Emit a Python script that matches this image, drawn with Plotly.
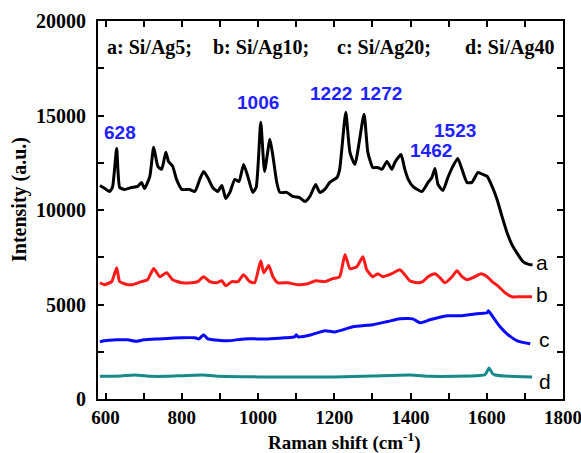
import plotly.graph_objects as go

# ---- data ----
xa = [585, 597, 610, 618, 629, 637, 650, 668, 684, 694, 702, 716, 726, 737, 747, 758, 765, 776, 786, 800,
      820, 834, 847, 857, 868, 881, 894, 905, 915, 926, 939, 950, 962, 973, 986, 995, 1007, 1017, 1031, 1039,
      1049, 1057, 1075, 1091, 1109, 1123, 1136, 1151, 1162, 1175, 1188, 1207, 1214, 1230, 1241, 1254, 1278, 1288, 1301, 1314,
      1325, 1338, 1351, 1359, 1375, 1385, 1394, 1406, 1430, 1446, 1456, 1464, 1472, 1485, 1498, 1511, 1524, 1535, 1548, 1561,
      1577, 1590, 1601, 1614, 1627, 1640, 1653, 1666, 1682, 1695, 1713, 1720]
ya = [11300, 11150, 10980, 11200, 13260, 11190, 11090, 11190, 11250, 11460, 11140, 11780, 13320, 12310, 12150, 13050, 12570, 12310, 11620, 11090,
      11090, 10980, 11620, 12040, 11720, 11190, 10980, 11300, 10610, 10930, 11620, 11510, 12410, 11780, 10930, 11200, 14640, 12040, 13740, 12840,
      11460, 10930, 10930, 10720, 10660, 10450, 10720, 11350, 10930, 11090, 11460, 11720, 12150, 15170, 13050, 12410, 15070, 13050, 12250, 12250,
      12150, 12570, 12150, 12520, 12940, 12150, 11620, 11250, 10980, 11460, 11720, 12200, 11350, 11030, 11720, 12310, 12730, 12150, 11460, 11460,
      11990, 11880, 11780, 11250, 10560, 9660, 8810, 8170, 7640, 7270, 7110, 7100]

xb = [585, 597, 616, 629, 637, 658, 671, 694, 710, 726, 742, 760, 776, 800, 826, 842, 857, 873, 891, 905,
      915, 931, 947, 962, 978, 991, 1007, 1015, 1028, 1039, 1052, 1078, 1104, 1130, 1151, 1175, 1196, 1214, 1228, 1241,
      1259, 1275, 1285, 1301, 1314, 1327, 1351, 1372, 1385, 1398, 1417, 1432, 1446, 1464, 1477, 1490, 1509, 1522, 1535, 1548,
      1564, 1585, 1601, 1614, 1629, 1648, 1666, 1687, 1719]
yb = [6150, 6050, 6210, 6950, 6210, 6050, 6050, 6210, 6310, 6900, 6470, 6680, 6310, 6150, 6150, 6210, 6470, 6210, 6150, 6260,
      5990, 6210, 6210, 6580, 6210, 6150, 7320, 6680, 7060, 6470, 6150, 6150, 6050, 6100, 6260, 6210, 6370, 6470, 7640, 6900,
      7000, 7530, 6840, 6470, 6630, 6470, 6630, 6840, 6580, 6260, 6150, 6210, 6470, 6630, 6420, 6150, 6470, 6790, 6470, 6310,
      6420, 6630, 6470, 6210, 5990, 5620, 5410, 5410, 5410]

xc = [585, 597, 630, 658, 680, 700, 740, 800, 834, 845, 857, 868, 900, 921, 965, 1025, 1070, 1096, 1100, 1105,
      1140, 1175, 1201, 1249, 1301, 1340, 1372, 1406, 1425, 1451, 1496, 1530, 1574, 1601, 1604, 1616, 1635, 1653, 1680, 1714]
yc = [3020, 3080, 3130, 3130, 3050, 3130, 3180, 3240, 3240, 3180, 3400, 3180, 3100, 3080, 3180, 3180, 3240, 3290, 3400, 3290,
      3400, 3610, 3550, 3820, 3930, 4100, 4240, 4240, 4030, 4190, 4400, 4400, 4510, 4560, 4670, 4350, 3820, 3450, 3080, 2920]

xd = [585, 640, 676, 720, 760, 855, 900, 1000, 1100, 1200, 1300, 1400, 1450, 1520, 1580, 1596, 1606, 1615, 1622, 1660, 1719]
yd = [1200, 1220, 1270, 1200, 1200, 1270, 1200, 1170, 1170, 1170, 1220, 1270, 1200, 1200, 1240, 1300, 1640, 1350, 1270, 1200, 1170]

series_names = ["a", "b", "c", "d"]
series_colors = ["#000000", "#ff1a1a", "#0a0aff", "#168a8a"]
end_label_x = [1745, 1745, 1752, 1752]
end_label_y = [7215, 5520, 3130, 900]

peak_text = ["628", "1006", "1222", "1272", "1462", "1523"]
peak_x = [639, 999, 1190, 1322, 1454, 1517]
peak_y = [14110, 15700, 16180, 16180, 13160, 14220]

legend_text = ["a: Si/Ag5;", "b: Si/Ag10;", "c: Si/Ag20;", "d: Si/Ag40"]
legend_x = [598, 876, 1203, 1537]
legend_y = 18620

x_ticks = [600, 800, 1000, 1200, 1400, 1600, 1800]
y_ticks = [0, 5000, 10000, 15000, 20000]

x_title = "Raman shift (cm<sup>-1</sup>)"
y_title = "Intensity (a.u.)"

# ---- figure ----
fig = go.Figure()
for xs, ys, name, col in zip([xa, xb, xc, xd], [ya, yb, yc, yd], series_names, series_colors):
    fig.add_trace(go.Scatter(x=xs, y=ys, mode="lines", name=name,
                             line=dict(color=col, width=3, shape="spline", smoothing=0.5)))

serif = "Liberation Serif"
sans = "Liberation Sans"

for name, lx, ly in zip(series_names, end_label_x, end_label_y):
    fig.add_annotation(x=lx, y=ly, text=name, showarrow=False, xanchor="center", yanchor="middle",
                       font=dict(family=sans, size=21, color="#000000"))

for t, px, py in zip(peak_text, peak_x, peak_y):
    fig.add_annotation(x=px, y=py, text=t, showarrow=False, xanchor="center", yanchor="middle",
                       font=dict(family=sans, size=19, color="#2222ff", weight="bold"))

for t, px in zip(legend_text, legend_x):
    fig.add_annotation(x=px, y=legend_y, text=t, showarrow=False, xanchor="left", yanchor="middle",
                       font=dict(family=serif, size=20, color="#000000", weight="bold"))

# axis titles placed as annotations for exact positioning
fig.add_annotation(xref="paper", yref="paper", x=0.531, y=-0.113, text=x_title, showarrow=False,
                   xanchor="center", yanchor="middle",
                   font=dict(family=serif, size=19, color="#000000", weight="bold"))
fig.add_annotation(xref="paper", yref="paper", x=-0.170, y=0.529, text=y_title, showarrow=False,
                   xanchor="center", yanchor="middle", textangle=-90,
                   font=dict(family=serif, size=20, color="#000000", weight="bold"))

axis_common = dict(showline=True, linecolor="#000000", linewidth=2, mirror="ticks",
                   ticks="inside", ticklen=6, tickwidth=1.5, tickcolor="#000000",
                   showgrid=False, zeroline=False, automargin=False,
                   ticklabeloverflow="allow")

fig.update_xaxes(range=[580, 1800], tickvals=x_ticks, ticktext=[str(v) for v in x_ticks],
                 ticklabelstandoff=0,
                 tickfont=dict(family=serif, size=19, color="#000000", weight="bold"),
                 minor=dict(dtick=100, tick0=0, ticks="inside", ticklen=6, tickwidth=1.5, tickcolor="#000000"),
                 **axis_common)
fig.update_yaxes(range=[0, 20000], tickvals=y_ticks, ticktext=[str(v) for v in y_ticks],
                 ticklabelstandoff=6,
                 tickfont=dict(family=serif, size=20, color="#000000", weight="bold"),
                 minor=dict(dtick=2500, tick0=0, ticks="inside", ticklen=6, tickwidth=1.5, tickcolor="#000000"),
                 **axis_common)

fig.update_layout(width=581, height=453, margin=dict(l=98, r=18, t=21, b=54),
                  paper_bgcolor="#ffffff", plot_bgcolor="#ffffff", showlegend=False)

fig.write_html("out.html")
